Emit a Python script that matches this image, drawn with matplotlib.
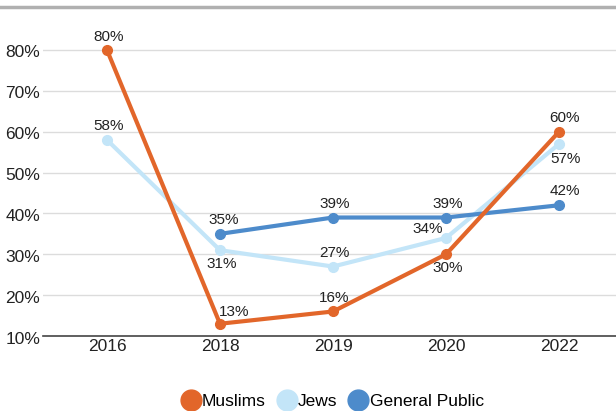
import matplotlib
matplotlib.use("Agg")
import matplotlib.pyplot as plt
from matplotlib.lines import Line2D
import matplotlib.transforms as mtransforms

years = ["2016", "2018", "2019", "2020", "2022"]
muslims = [80, 13, 16, 30, 60]
jews = [58, 31, 27, 34, 57]
general_public = [None, 35, 39, 39, 42]
yticks = [10, 20, 30, 40, 50, 60, 70, 80]

c_mus = "#E2662A"
c_jew = "#C3E5F8"
c_gp = "#4D8BCB"

plt.rcParams['font.family'] = ["Liberation Sans", 'DejaVu Sans']

fig = plt.figure(figsize=(6.16, 4.11), dpi=100)
ax = fig.add_axes([43/616, 1-336/411, 1-43/616, (336-30)/411])
x = list(range(len(years)))

ax.set_ylim(10, 10 + 70 * 306 / 286)
ax.set_xlim(-0.566, 4.504)
for y in yticks[1:]:
    ax.axhline(y, color="#dcdcdc", lw=1, zorder=0)
for s in ["top", "right", "left"]:
    ax.spines[s].set_visible(False)
ax.spines["bottom"].set_color("#444444")
ax.spines["bottom"].set_linewidth(1.2)
ax.set_yticks(yticks)
ax.set_yticklabels([f"{v}%" for v in yticks], fontsize=12.5, color="#222222")
ax.set_xticks(x)
ax.set_xticklabels(years, fontsize=12.5, color="#222222")
ax.tick_params(length=0)
ax.tick_params(axis="x", pad=2.5)
ax.tick_params(axis="y", pad=2)
shift = mtransforms.ScaledTranslation(0, -3/100, fig.dpi_scale_trans)
for lab_ in ax.get_yticklabels():
    lab_.set_verticalalignment("center")
    lab_.set_transform(lab_.get_transform() + shift)

gx = [i for i, v in zip(x, general_public) if v is not None]
gy = [v for v in general_public if v is not None]
ax.plot(x, jews, color=c_jew, lw=3, marker="o", ms=7, zorder=2, clip_on=False)
ax.plot(gx, gy, color=c_gp, lw=3, marker="o", ms=7, zorder=3, clip_on=False)
ax.plot(x, muslims, color=c_mus, lw=3, marker="o", ms=7, zorder=4, clip_on=False)

def lab(xi, yi, dx, dy, ha="center"):
    ax.annotate(f"{yi}%", (xi, yi), xytext=(dx, dy), textcoords="offset points",
                ha=ha, va="center", fontsize=11, color="#222222")

offs_m = [(1, 9.5), (10, 8.6), (1, 9.5), (1, -10), (4, 10)]
for xi, yi, (dx, dy) in zip(x, muslims, offs_m):
    lab(xi, yi, dx, dy)
offs_j = [(1, 10), (1, -10), (1, 9.5), (-13, 6.5), (5, -11)]
for xi, yi, (dx, dy) in zip(x, jews, offs_j):
    lab(xi, yi, dx, dy)
offs_g = [(3, 10), (1, 10), (1, 10), (4, 10.5)]
for xi, yi, (dx, dy) in zip(gx, gy, offs_g):
    lab(xi, yi, dx, dy)

fig.add_artist(Line2D([0, 1], [1-7/411, 1-7/411], color="#b0b0b0", lw=2.5))

handles = [Line2D([], [], color=c, marker="o", ls="", ms=15) for c in (c_mus, c_jew, c_gp)]
fig.legend(handles, ["Muslims", "Jews", "General Public"], loc="center",
           bbox_to_anchor=(332/616, 1-401/411), ncol=3, frameon=False, fontsize=12.5,
           handletextpad=0.05, columnspacing=0.6, handlelength=1.2)

fig.savefig("out.png", dpi=100)
